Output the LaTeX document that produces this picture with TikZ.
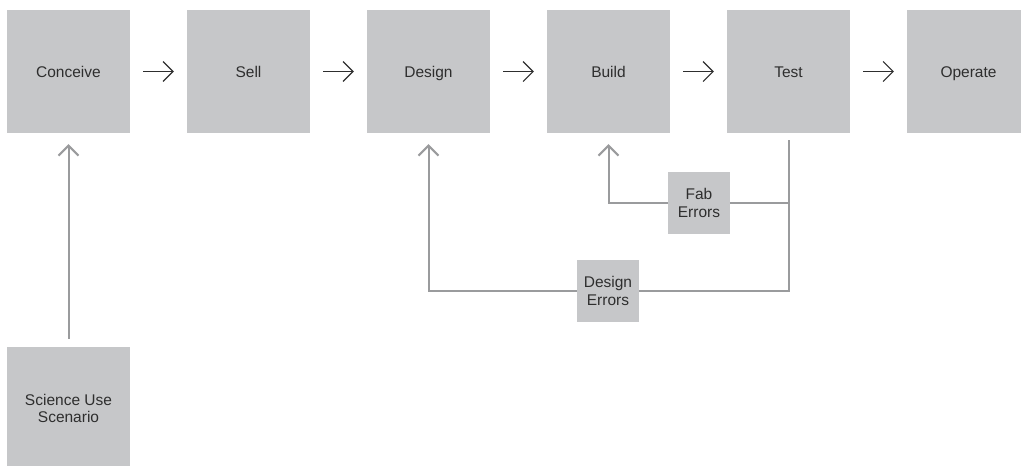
\documentclass[tikz,border=0pt]{standalone}
\usepackage{fontspec}
\setmainfont{Liberation Sans}
\usetikzlibrary{arrows.meta,backgrounds}
\definecolor{boxgray}{HTML}{C6C7C9}
\definecolor{linegray}{HTML}{9A9B9D}
\definecolor{txt}{HTML}{2E2E2E}
\begin{document}
\begin{tikzpicture}[x=1pt,y=-1pt,
  stage/.style={fill=boxgray,minimum width=123pt,minimum height=123pt,inner sep=0pt,
    text=txt,font=\fontsize{15.5pt}{17.7pt}\selectfont,
    text height=11.1pt,text depth=0pt},
  stage2/.style={fill=boxgray,minimum width=123pt,minimum height=123pt,inner sep=0pt,
    text=txt,align=center,font=\fontsize{15.5pt}{17.7pt}\selectfont},
  errbox/.style={fill=boxgray,minimum width=62pt,minimum height=62pt,inner sep=0pt,
    text=txt,align=center,font=\fontsize{15.5pt}{17.7pt}\selectfont},
  harrow/.style={draw=txt,line width=1.1pt,-{Straight Barb[length=10pt,width=20pt]},
    shorten <=13pt,shorten >=13pt},
  garrow/.style={draw=linegray,line width=2pt,-{Straight Barb[length=10pt,width=20pt]},
    shorten >=11pt}]
\useasboundingbox (0,0) rectangle (1021,466);
\node[stage] (conceive) at (68.5,71.5) {Conceive};
\node[stage] (sell) at (248.5,71.5) {Sell};
\node[stage] (design) at (428.5,71.5) {Design};
\node[stage] (build) at (608.5,71.5) {Build};
\node[stage] (test) at (788.5,71.5) {Test};
\node[stage] (operate) at (968.5,71.5) {Operate};
\node[stage2] (sci) at (68.5,408.5) {Science Use\\Scenario};
\node[errbox] (fab) at (699,203) {Fab\\Errors};
\node[errbox] (deserr) at (608,291) {Design\\Errors};
\draw[harrow] (conceive) -- (sell);
\draw[harrow] (sell) -- (design);
\draw[harrow] (design) -- (build);
\draw[harrow] (build) -- (test);
\draw[harrow] (test) -- (operate);
\begin{scope}[on background layer]
\draw[garrow,shorten <=8pt] (sci.north) -- (conceive.south);
\draw[garrow,shorten <=7pt] (test.south) -- (test.south |- fab) -- (build.south |- fab) -- (build.south);
\draw[garrow,shorten <=7pt] (test.south) -- (test.south |- deserr) -- (design.south |- deserr) -- (design.south);
\end{scope}
\end{tikzpicture}
\end{document}
